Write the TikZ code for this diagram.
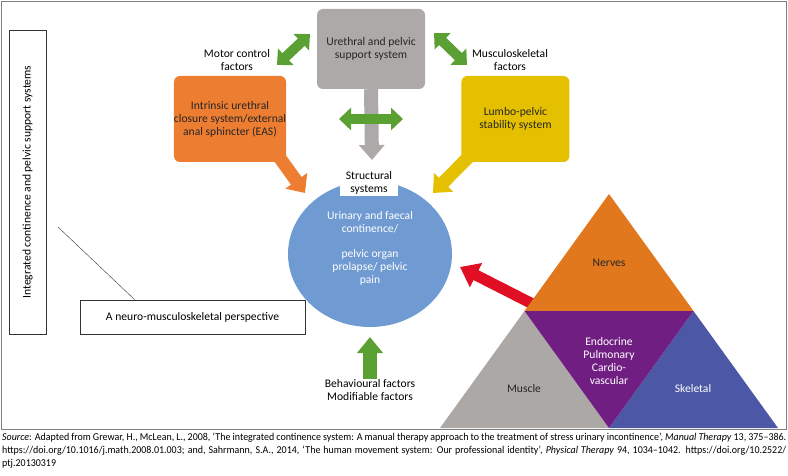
\documentclass[tikz,border=0pt]{standalone}
\usepackage{fontspec}
\setmainfont{Carlito}
\newfontfamily\sourcefont[FakeStretch=0.95]{Carlito}
\usetikzlibrary{arrows.meta,positioning,shapes.geometric,backgrounds,calc}
\definecolor{boxgray}{RGB}{173,169,168}
\definecolor{boxorange}{RGB}{237,125,49}
\definecolor{boxyellow}{RGB}{228,192,0}
\definecolor{circblue}{RGB}{112,155,210}
\definecolor{leafgreen}{RGB}{90,160,50}
\definecolor{nerveorange}{RGB}{225,120,30}
\definecolor{musclegray}{RGB}{172,168,166}
\definecolor{endopurple}{RGB}{112,30,130}
\definecolor{skelblue}{RGB}{76,88,165}
\definecolor{alarmred}{RGB}{225,15,35}
\tikzset{every node/.style={align=center}, >=latex, font=\fontsize{11.6}{13}\selectfont,
  sysbox/.style={rounded corners=6pt, minimum width=108pt, minimum height=86pt, inner sep=0pt, text=black!85},
  plainbox/.style={draw=black!80, line width=0.8pt},
  greenboth/.style={draw=leafgreen, line width=10pt, {Triangle[width=22pt,length=12pt]}-{Triangle[width=22pt,length=12pt]}},
  fatarrow/.style={line width=13pt, -{Triangle[width=26pt,length=15pt]}}}

\begin{document}
\begin{tikzpicture}[x=1pt, y=-1pt]
  \useasboundingbox (0,0) rectangle (788,476);
  \draw[gray, line width=0.8pt] (1,1) rectangle (786,429);

  % left side
  \node[plainbox, rotate=90, minimum width=304pt, minimum height=37pt] (integrated) at (27.5,182) {Integrated continence and pelvic support systems};
  \node[plainbox, minimum width=225pt, minimum height=34pt] (neuro) at (192.5,317) {A neuro-musculoskeletal perspective};
  \coordinate (lineStart) at (58,227);
  \draw[black!80] (lineStart) -- ($(neuro.north west)+(55,0)$);

  % systems
  \node[sysbox, fill=boxgray, minimum height=80pt] (urethral) at (371,49) {Urethral and pelvic\\support system};
  \node[sysbox, fill=boxorange] (intrinsic) at (230,119) {Intrinsic urethral\\closure system/external\\anal sphincter (EAS)};
  \node[sysbox, fill=boxyellow] (lumbo) [right=175pt of intrinsic] {Lumbo-pelvic\\stability system};
  \node (motor) at (237,60) {Motor control\\factors};
  \node (musculo) at (510,60) {Musculoskeletal\\factors};

  % outcome
  \node[ellipse, fill=circblue, minimum width=164pt, minimum height=146pt, inner sep=0pt] (outcome) at (370,254) {};
  \node[fill=white, minimum width=58pt, minimum height=27pt, inner sep=1pt] (structural) at (369,183) {Structural\\systems};
  \node[text=white] (outtext) at (370,248) {Urinary and faecal\\continence/\\[12pt]pelvic organ\\prolapse/ pelvic\\pain};
  \node[inner sep=1pt] (behaviour) at (370,390.5) {Behavioural factors\\Modifiable factors};

  % arrows
  \coordinate (grayTip) at (372,160);
  \coordinate (gL) at (339,119);
  \coordinate (gR) at (403,119);
  \coordinate (motorA) at (277,65);
  \coordinate (motorB) at (310,34);
  \coordinate (musculoA) at (434,33);
  \coordinate (musculoB) at (467,65);
  \coordinate (upTip) at (370,337);
  \coordinate (intrinsicTip) at (305,193);
  \coordinate (lumboTip) at (433,193);
  \coordinate (redTip) at (460,267);
  \draw[boxgray, line width=14pt, -{Triangle[width=25pt,length=15pt]}] (urethral.south) -- (grayTip);
  \draw[greenboth] (gL) -- (gR);
  \draw[greenboth] (motorA) -- (motorB);
  \draw[greenboth] (musculoA) -- (musculoB);
  \draw[leafgreen, line width=14pt, -{Triangle[width=25pt,length=16pt]}] (behaviour.north) -- (upTip);

  % triangle
  \coordinate (apex) at (609,194);
  \coordinate (baseL) at (440,428);
  \coordinate (baseR) at (778,428);
  \coordinate (midL) at ($(apex)!0.5!(baseL)$);
  \coordinate (midR) at ($(apex)!0.5!(baseR)$);
  \coordinate (midB) at ($(baseL)!0.5!(baseR)$);
  \fill[nerveorange] (apex) -- (midL) -- (midR) -- cycle;
  \fill[musclegray] (midL) -- (baseL) -- (midB) -- cycle;
  \fill[skelblue] (midR) -- (midB) -- (baseR) -- cycle;
  \fill[endopurple] (midL) -- (midR) -- (midB) -- cycle;
  \node[text=black!85] (nerves) at (609,263) {Nerves};
  \node[text=black!85] (muscle) at (524,389) {Muscle};
  \node[text=white] (endocrine) at (609,361) {Endocrine\\Pulmonary\\Cardio-\\vascular};
  \node[text=white] (skeletal) at (693,389) {Skeletal};

  \begin{scope}[on background layer]
    \draw[boxorange, fatarrow] ($(intrinsic.south east)+(-12,-12)$) -- (intrinsicTip);
    \draw[boxyellow, fatarrow] ($(lumbo.south west)+(16,-14)$) -- (lumboTip);
    \draw[alarmred, line width=11pt, -{Triangle[width=26pt,length=18pt]}] ($(midL)+(20,-1)$) -- (redTip);
  \end{scope}

  % source
  \node[anchor=north west, text width=784pt, align=justify, inner sep=0pt, font=\sourcefont\fontsize{10.5}{13}\selectfont] (source) at (2,433)
    {\textit{Source}: Adapted from Grewar, H., McLean, L., 2008, ‘The integrated continence system: A manual therapy approach to the treatment of stress urinary incontinence’, \textit{Manual Therapy} 13, 375–386.\linebreak https://doi.org/10.1016/j.math.2008.01.003; and, Sahrmann, S.A., 2014, ‘The human movement system: Our professional identity’, \textit{Physical Therapy} 94, 1034–1042. https://doi.org/10.2522/\linebreak ptj.20130319};
\end{tikzpicture}
\end{document}
